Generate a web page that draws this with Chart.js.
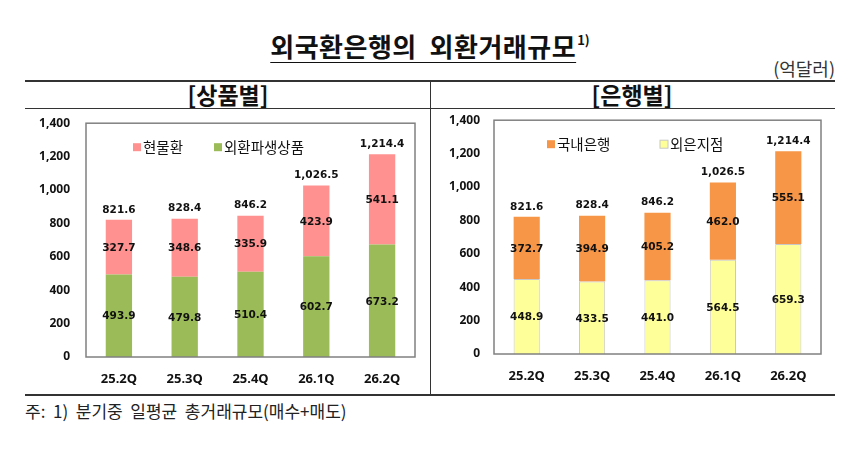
<!DOCTYPE html>
<html>
<head>
<meta charset="utf-8">
<script src="https://cdn.jsdelivr.net/npm/chart.js@4.4.1/dist/chart.umd.min.js"></script>
<style>
  body { margin: 0; width: 860px; height: 456px; background: #fff; position: relative; overflow: hidden;
         font-family: "Noto Sans CJK KR", "Noto Sans", sans-serif; color: #111; }
  .abs { position: absolute; }
  #title { left: 0; width: 860px; top: 22px; text-align: center; font-size: 26px; font-weight: bold; line-height: 36px; }
  #title span { text-decoration: underline; text-decoration-thickness: 1px; text-underline-offset: 5px; letter-spacing: 0.5px; }
  #title sup { font-size: 13px; vertical-align: 12px; margin-left: 1px; }
  #unit { right: 25px; top: 55px; font-size: 18px; color: #333; }
  .rule { background: #333; }
  .head { top: 78px; font-size: 23px; font-weight: bold; width: 200px; text-align: center; line-height: 32px; }
  .box { height: 294px; }
  #note { left: 25px; top: 398px; font-size: 17px; color: #222; white-space: pre; }
</style>
</head>
<body>
<div id="title" class="abs"><span>외국환은행의&nbsp;&nbsp;외환거래규모</span><sup>1)</sup></div>
<div id="unit" class="abs">(억달러)</div>

<div class="abs rule" style="left:25px;top:80px;width:810px;height:2px;"></div>
<div class="abs rule" style="left:25px;top:108px;width:810px;height:1px;"></div>
<div class="abs rule" style="left:25px;top:394px;width:810px;height:2px;"></div>
<div class="abs rule" style="left:430px;top:80px;width:1px;height:315px;"></div>

<div class="abs head" style="left:128px;">[상품별]</div>
<div class="abs head" style="left:532px;">[은행별]</div>

<div class="abs box" style="left:15px;top:100px;width:415px;"><canvas id="productChart"></canvas></div>
<div class="abs box" style="left:432px;top:99px;width:413px;"><canvas id="bankChart"></canvas></div>

<div id="note" class="abs">주:  1)  분기중  일평균  총거래규모(매수+매도)</div>

<script>
'use strict';

let quarters = ['25.2Q', '25.3Q', '25.4Q', '26.1Q', '26.2Q'];
let totalValues = [821.6, 828.4, 846.2, 1026.5, 1214.4];

// [상품별]
let spotValues = [327.7, 348.6, 335.9, 423.9, 541.1];
let derivativeValues = [493.9, 479.8, 510.4, 602.7, 673.2];

// [은행별]
let domesticValues = [372.7, 394.9, 405.2, 462.0, 555.1];
let foreignValues = [448.9, 433.5, 441.0, 564.5, 659.3];

let yMin = 0;
let yMax = 1400;
let yStep = 200;

function fmt(v){
  return v.toLocaleString('en-US', {minimumFractionDigits: 1, maximumFractionDigits: 1});
}

// plot frame, values inside bars, totals on top, legend inside the frame
let decorPlugin = {
  id: 'decor',
  afterDatasetsDraw(chart, args, opts){
    let ctx = chart.ctx;
    let area = chart.chartArea;

    ctx.save();
    ctx.strokeStyle = '#808080';
    ctx.lineWidth = 1.5;
    ctx.strokeRect(area.left, area.top, area.right - area.left, area.bottom - area.top);

    ctx.fillStyle = '#111';
    ctx.textAlign = 'center';
    ctx.textBaseline = 'middle';
    ctx.font = 'bold 10.5px "DejaVu Sans"';
    chart.data.datasets.forEach(function(ds, di){
      let meta = chart.getDatasetMeta(di);
      meta.data.forEach(function(bar, i){
        ctx.fillText(ds.data[i].toFixed(1), bar.x, (bar.y + bar.base) / 2 + 1);
      });
    });

    let topMeta = chart.getDatasetMeta(chart.data.datasets.length - 1);
    topMeta.data.forEach(function(bar, i){
      ctx.fillText(fmt(totalValues[i]), bar.x, bar.y - 10);
    });

    // legend: top stack first
    ctx.font = '14.5px "Noto Sans CJK KR"';
    ctx.textAlign = 'left';
    let items = chart.data.datasets.slice().reverse();
    items.forEach(function(ds, k){
      let x = area.left + opts.offsets[k];
      let y = area.top + 24;
      ctx.fillStyle = ds.backgroundColor;
      ctx.fillRect(x, y - 4, 8, 8);
      if (ds.borderWidth) {
        ctx.strokeStyle = ds.borderColor;
        ctx.lineWidth = 1;
        ctx.strokeRect(x, y - 4, 8, 8);
      }
      ctx.fillStyle = '#111';
      ctx.fillText(ds.label, x + 10, y);
    });
    ctx.restore();
  }
};

function makeChart(canvasId, bottomSet, topSet, geo){
  let ctx = document.getElementById(canvasId).getContext('2d');
  return new Chart(ctx, {
    type: 'bar',
    data: {
      labels: quarters,
      datasets: [bottomSet, topSet]
    },
    options: {
      responsive: true,
      maintainAspectRatio: false,
      animation: false,
      layout: { padding: { top: geo.top, right: geo.right, left: 0, bottom: 0 } },
      datasets: { bar: { categoryPercentage: 0.8, barPercentage: 0.5 } },
      plugins: {
        legend: { display: false },
        tooltip: { enabled: false },
        decor: { offsets: geo.legend }
      },
      scales: {
        x: {
          stacked: true,
          grid: { display: false, drawTicks: false },
          border: { display: false },
          ticks: { color: '#111', padding: 14, font: { family: 'Noto Sans', size: 13, weight: 'bold' } },
          afterFit: function(scale){ scale.height = geo.xHeight; }
        },
        y: {
          stacked: true,
          min: yMin,
          max: yMax,
          grid: { display: false, drawTicks: false },
          border: { display: false },
          ticks: {
            stepSize: yStep,
            color: '#111',
            padding: geo.yPad,
            font: { family: 'Noto Sans', size: 12, weight: 'bold' },
            callback: function(v){ return v.toLocaleString('en-US'); }
          },
          afterFit: function(scale){ scale.width = geo.yWidth; }
        }
      }
    },
    plugins: [decorPlugin]
  });
}

makeChart('productChart',
  { label: '외환파생상품', data: derivativeValues, backgroundColor: '#9BBB59', borderWidth: 0 },
  { label: '현물환', data: spotValues, backgroundColor: '#FF9191', borderWidth: 0 },
  { top: 0, right: 15, yWidth: 71, xHeight: 37, yPad: 16, legend: [47, 128] });

makeChart('bankChart',
  { label: '외은지점', data: foreignValues, backgroundColor: '#FFFF99', borderColor: '#C8C8C8', borderWidth: 1 },
  { label: '국내은행', data: domesticValues, backgroundColor: '#F79646', borderWidth: 0 },
  { top: 0, right: 24, yWidth: 62, xHeight: 39, yPad: 14, legend: [53, 166] });
</script>
</body>
</html>
